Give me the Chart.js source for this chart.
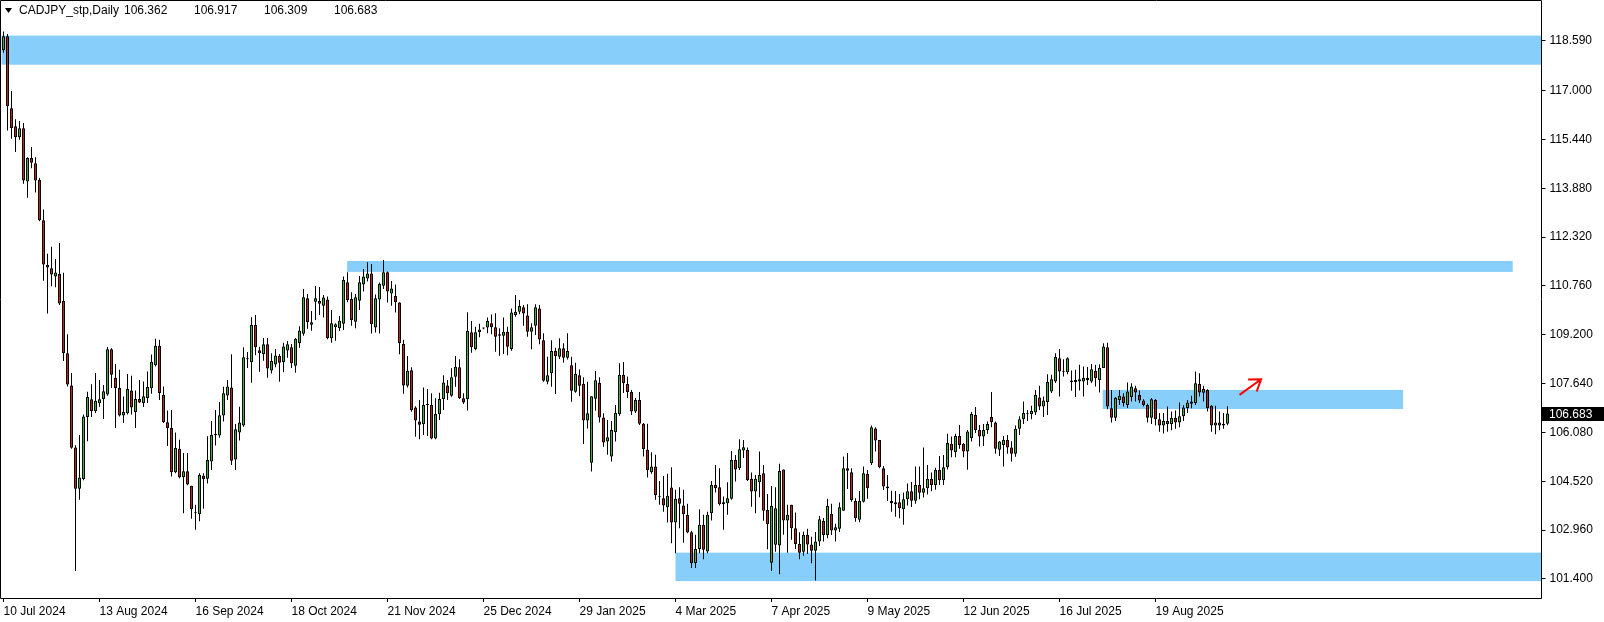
<!DOCTYPE html>
<html>
<head>
<meta charset="utf-8">
<script src="https://cdn.jsdelivr.net/npm/chart.js@4.4.1/dist/chart.umd.min.js"></script>
<style>
  html, body { margin: 0; padding: 0; background: #fff; overflow: hidden; }
  canvas { display: block; }
</style>
</head>
<body>
<canvas id="cadjpyChart" width="1604" height="622"></canvas>
<script>
const symbolTitle = 'CADJPY_stp,Daily';
const slotCount = 385; // bars that fit in the window, incl. empty space on the right
const dateTicks = ['10 Jul 2024', '13 Aug 2024', '16 Sep 2024', '18 Oct 2024', '21 Nov 2024', '25 Dec 2024',
  '29 Jan 2025', '4 Mar 2025', '7 Apr 2025', '9 May 2025', '12 Jun 2025', '16 Jul 2025', '19 Aug 2025'];
const priceTicks = [101.4, 102.96, 104.52, 106.08, 107.64, 109.2, 110.76, 112.32, 113.88, 115.44, 117.0, 118.59];

const opens = [
  118.30,118.74,116.44,115.86,115.51,115.80,114.10,114.85,114.68,114.15,
  112.86,111.44,111.33,111.06,111.14,110.28,108.61,107.58,105.60,104.28,
  104.59,106.57,107.14,106.76,107.01,107.15,107.29,108.74,107.82,107.50,
  106.62,106.69,107.42,106.73,107.15,107.02,107.18,107.49,108.23,108.85,
  107.28,106.41,106.22,104.81,105.56,104.65,104.84,104.38,103.52,103.47,
  104.70,104.60,105.15,106.00,105.98,106.62,107.26,107.52,105.22,106.08,
  106.30,108.42,108.32,109.51,108.71,108.58,108.90,108.06,108.25,108.52,
  108.32,108.70,108.80,108.21,108.93,109.23,110.37,109.52,110.26,110.28,
  110.13,110.33,109.09,109.44,109.41,109.55,110.88,110.34,109.62,110.29,
  110.81,111.00,111.16,109.43,110.33,110.77,111.20,110.52,110.44,110.23,
  108.91,107.57,108.07,106.88,106.43,106.34,106.96,106.96,105.89,106.66,
  107.15,107.58,107.25,107.86,108.16,107.17,107.14,109.28,108.74,109.28,
  109.41,109.43,109.57,109.44,109.22,109.17,109.30,108.75,109.83,109.94,
  110.08,109.82,109.30,109.49,110.04,109.03,107.70,107.97,108.68,108.50,
  108.77,108.47,108.23,107.38,107.91,107.63,106.46,105.11,107.16,107.67,
  106.56,105.79,105.31,106.09,106.66,107.92,107.63,107.37,106.75,107.12,
  106.36,105.53,104.81,104.99,104.03,103.98,103.69,104.32,103.20,103.98,
  103.75,103.45,102.89,101.90,102.36,103.13,102.28,103.50,104.40,104.33,
  103.79,103.82,103.96,105.20,104.94,105.50,105.52,104.60,104.19,104.49,
  104.78,103.60,101.92,102.49,102.47,104.90,103.27,103.77,103.02,102.52,
  102.27,102.81,102.50,102.30,102.60,103.25,102.80,103.48,102.95,103.00,
  103.58,104.94,104.81,103.89,103.29,103.87,104.75,105.10,106.21,105.84,
  104.94,104.35,103.89,103.79,103.85,103.63,103.95,104.20,103.90,104.40,
  104.15,104.30,104.60,104.40,104.88,104.55,104.97,105.72,105.45,105.97,
  105.72,105.47,105.90,106.64,106.16,105.95,106.16,106.57,106.40,105.53,
  105.68,105.84,105.60,105.40,106.20,106.50,106.68,106.66,106.72,107.20,
  106.91,107.05,107.39,107.71,108.45,108.03,108.00,107.74,107.69,107.71,
  107.71,107.76,107.71,108.05,107.76,108.14,108.80,106.85,106.55,107.12,
  107.23,106.96,107.21,107.49,107.28,107.10,106.96,106.55,107.12,106.50,
  106.30,106.45,106.35,106.55,106.40,106.60,106.86,107.00,107.02,107.63,
  107.35,107.44,106.93,106.30,106.40,106.30,106.362
];
const highs = [
  118.89,118.81,116.99,116.09,116.03,115.97,114.87,115.20,114.87,114.21,
  113.20,111.79,112.01,111.62,112.13,111.18,109.22,107.98,105.67,106.00,
  106.65,107.38,107.62,107.98,107.76,107.60,108.81,108.77,108.27,108.08,
  107.23,107.95,107.89,107.42,107.76,107.71,108.03,108.57,109.07,109.04,
  107.55,106.78,106.80,106.08,105.85,105.42,105.42,104.38,103.77,104.78,
  104.78,105.96,106.45,106.80,107.05,107.54,107.76,108.58,106.35,106.90,
  108.80,108.65,109.76,109.83,108.82,109.10,109.10,108.61,108.75,108.59,
  108.95,109.00,108.91,109.10,109.47,110.66,110.50,109.96,110.76,110.73,
  110.47,110.42,109.99,109.57,109.80,111.06,111.20,110.56,110.50,111.08,
  111.30,111.52,111.46,110.49,110.87,111.59,111.22,110.92,110.81,110.24,
  109.04,108.52,108.16,106.92,107.12,107.52,107.47,107.33,107.17,107.35,
  107.91,107.76,108.13,108.52,108.42,107.33,109.92,109.64,109.46,109.55,
  109.43,109.75,109.85,109.89,109.41,109.75,109.46,110.04,110.47,110.31,
  110.15,110.18,109.57,110.18,110.15,109.25,108.50,109.03,108.79,109.09,
  108.93,109.25,108.50,108.31,108.09,107.84,107.70,107.24,108.04,107.84,
  106.69,106.48,106.45,106.96,108.29,108.33,107.87,107.44,107.18,107.37,
  106.38,106.36,105.45,105.37,104.53,104.69,104.76,104.97,104.25,104.33,
  104.25,103.80,102.94,102.81,103.63,103.45,103.55,104.53,105.04,104.94,
  104.03,104.49,105.49,105.36,105.86,105.84,105.60,104.80,104.72,105.47,
  105.04,104.11,104.37,104.33,105.08,104.90,103.77,103.77,103.52,102.89,
  102.91,103.00,102.75,102.90,103.41,103.35,103.96,103.80,103.16,103.84,
  105.31,105.42,104.94,103.98,104.21,104.99,104.88,106.30,106.25,105.84,
  105.01,104.72,104.22,104.21,104.11,104.16,104.45,104.50,104.99,104.99,
  105.60,105.04,104.80,104.95,105.33,105.36,106.04,105.95,106.04,106.32,
  105.74,106.16,106.73,106.89,106.32,106.35,106.43,107.37,106.43,105.81,
  105.97,106.00,105.80,106.30,106.60,107.07,106.80,106.93,107.44,107.57,
  107.23,107.94,107.92,108.61,108.75,108.42,108.48,108.06,108.08,108.24,
  108.19,108.17,108.27,108.24,108.26,108.93,108.95,107.44,107.21,107.44,
  107.33,107.68,107.65,107.57,107.42,107.14,107.00,107.18,107.15,106.70,
  106.70,106.91,106.75,106.78,107.04,106.95,107.12,107.25,108.03,107.97,
  107.57,107.46,106.95,106.93,106.75,106.70,106.917
];
const lows = [
  118.21,115.73,115.46,115.04,115.43,114.03,113.58,114.52,113.75,112.83,
  110.93,109.88,110.75,110.72,110.15,108.36,107.55,105.56,101.65,103.93,
  104.55,105.80,106.57,106.70,106.90,106.51,107.25,107.50,106.22,106.59,
  106.38,106.65,106.65,106.22,107.02,106.89,107.02,107.32,108.19,107.12,
  106.38,105.65,104.67,104.78,104.62,103.50,104.39,103.32,102.97,103.24,
  103.64,104.45,104.88,105.66,105.91,106.43,107.12,105.04,104.88,105.82,
  106.26,108.14,107.67,108.55,108.02,108.37,107.83,107.96,108.16,107.70,
  108.00,108.47,108.14,107.99,108.79,109.17,109.39,109.33,109.67,109.83,
  109.75,109.06,108.95,109.01,109.32,109.35,110.24,109.49,109.41,109.99,
  110.58,110.90,109.24,109.27,109.24,110.66,110.23,110.13,109.91,108.58,
  107.32,107.52,106.74,105.94,105.86,106.00,105.97,105.86,105.86,106.48,
  106.80,107.12,107.22,107.54,107.15,106.99,106.78,108.63,108.71,109.12,
  109.38,109.25,109.22,108.66,108.53,108.59,108.55,108.69,109.78,109.86,
  109.49,109.14,108.74,109.19,108.90,107.70,107.62,107.54,107.31,108.43,
  108.31,108.41,107.06,107.35,107.24,105.71,106.21,104.83,106.77,106.40,
  105.62,105.37,105.15,105.79,106.61,107.34,107.18,106.64,106.70,106.32,
  105.31,104.64,104.76,103.93,103.77,103.55,103.20,102.54,102.22,103.02,
  102.56,102.86,101.75,101.75,102.22,102.03,102.22,103.27,104.16,103.75,
  102.97,103.45,103.93,104.51,104.88,105.26,104.53,103.71,103.50,104.01,
  103.26,102.35,101.65,102.27,101.55,102.81,102.24,102.65,102.36,102.03,
  102.14,102.20,101.90,101.35,102.45,102.60,102.70,102.80,102.60,102.90,
  103.58,104.27,103.87,103.23,103.21,103.84,103.96,105.04,105.47,104.94,
  104.24,103.89,103.55,103.39,103.34,103.13,103.75,103.70,103.80,103.95,
  104.00,104.10,104.20,104.25,104.40,104.40,104.90,105.29,105.29,105.56,
  105.29,104.89,105.79,106.06,105.63,105.65,106.04,106.25,105.40,105.33,
  104.99,105.40,105.15,105.30,106.00,106.35,106.45,106.50,106.64,106.80,
  106.57,106.64,107.34,107.66,107.23,107.87,107.94,107.41,107.21,107.42,
  107.23,107.60,107.66,107.55,107.36,108.14,106.82,106.40,106.45,106.96,
  106.91,106.86,107.07,107.07,107.02,106.91,106.40,106.35,106.30,106.10,
  106.05,106.10,106.15,106.20,106.25,106.45,106.70,106.85,106.96,107.23,
  107.07,106.75,106.10,106.02,106.15,106.20,106.309
];
const closes = [
  118.74,116.50,115.81,115.51,115.80,114.13,114.85,114.70,114.13,112.86,
  111.45,111.35,111.13,111.19,110.20,108.61,107.61,105.59,104.28,104.64,
  106.59,107.21,106.76,107.09,107.14,107.40,108.74,107.92,107.50,106.62,
  106.73,107.47,106.88,107.15,107.04,107.24,107.53,108.34,108.85,107.34,
  106.41,106.22,104.81,105.58,104.65,104.84,104.42,103.63,103.50,104.72,
  104.59,105.20,106.00,106.02,106.63,107.33,107.55,105.18,106.18,106.40,
  108.48,108.44,109.51,108.80,108.61,108.90,108.12,108.36,108.54,108.31,
  108.83,108.90,108.29,109.07,109.34,110.40,109.60,109.60,110.37,110.19,
  110.39,109.09,109.57,109.54,109.65,110.95,110.31,109.67,110.40,110.88,
  111.06,111.16,109.54,110.37,110.82,111.20,110.58,110.68,110.24,108.93,
  107.58,108.05,106.80,106.46,106.33,106.96,106.98,105.89,106.67,107.15,
  107.68,107.33,107.84,108.18,107.17,107.04,109.33,108.80,109.28,109.37,
  109.40,109.65,109.44,109.14,109.17,109.30,108.82,109.91,109.94,110.12,
  109.88,109.30,109.44,110.08,109.05,107.73,107.91,108.68,108.52,108.77,
  108.47,108.68,107.41,107.95,107.57,106.46,106.69,107.24,107.75,106.56,
  105.76,105.93,106.16,106.70,107.92,107.65,107.37,106.75,107.12,106.36,
  105.55,104.87,104.99,104.07,104.01,103.75,104.06,103.20,103.96,103.80,
  103.47,102.88,101.90,102.36,103.13,102.33,103.45,104.40,104.30,103.79,
  103.85,103.98,105.20,104.90,105.54,105.61,104.56,104.19,104.60,104.72,
  103.58,103.15,103.73,103.66,104.85,103.27,103.45,103.02,102.52,102.24,
  102.81,102.50,102.30,102.60,103.31,102.80,103.73,102.95,103.05,103.69,
  104.94,104.86,103.92,103.34,103.90,104.78,104.30,106.25,105.82,104.97,
  104.35,104.30,103.82,103.85,103.66,103.95,104.20,103.90,104.40,104.15,
  104.30,104.60,104.40,104.88,104.55,104.97,105.74,105.50,105.97,105.68,
  105.47,106.11,106.67,106.16,105.95,106.16,106.35,106.41,105.56,105.79,
  105.84,105.60,105.40,106.20,106.50,106.70,106.66,106.77,107.28,106.91,
  107.10,107.69,107.78,108.49,108.03,108.02,108.45,107.69,107.76,107.78,
  107.82,107.82,108.10,107.82,108.14,108.83,106.91,106.55,107.18,107.25,
  107.02,107.39,107.55,107.36,107.10,106.96,106.55,107.14,106.50,106.30,
  106.45,106.35,106.55,106.40,106.60,106.88,107.04,107.07,107.65,107.36,
  107.47,106.85,106.30,106.40,106.30,106.36,106.683
];

// support / resistance boxes drawn on the chart (bar index range, price range)
const zoneFrom = [-2, 85.9, 274.8, 168];
const zoneTo = [400, 377.3, 349.9, 400];
const zoneLow = [117.83, 111.21, 106.83, 101.33];
const zoneHigh = [118.76, 111.56, 107.44, 102.24];
// hand-drawn arrow (bar index, price)
const arrowX = [309.0, 314.4];
const arrowY = [107.28, 107.78];

const bullColor = '#22c322';
const bearColor = '#c81e1e';
const zoneColor = '#87cefa';
const axisFont = { family: 'Liberation Sans', size: 12 };

const labels = Array.from({ length: slotCount }, (_, i) =>
  (i % 24 === 0 && dateTicks[i / 24]) ? dateTicks[i / 24] : '');
const last = closes.length - 1;

const overlay = {
  id: 'overlay',
  beforeDatasetsDraw(chart) {
    const { ctx, chartArea: a, scales: { x, y } } = chart;
    ctx.save();
    ctx.beginPath();
    ctx.rect(a.left, a.top, a.right - a.left, a.bottom - a.top);
    ctx.clip();
    ctx.fillStyle = zoneColor;
    for (let k = 0; k < zoneFrom.length; k++) {
      const x1 = x.getPixelForValue(zoneFrom[k]);
      const x2 = x.getPixelForValue(zoneTo[k]);
      const y1 = y.getPixelForValue(zoneHigh[k]);
      const y2 = y.getPixelForValue(zoneLow[k]);
      ctx.fillRect(x1, y1, x2 - x1, y2 - y1);
    }
    ctx.restore();
  },
  afterDatasetsDraw(chart) {
    const { ctx, scales: { x, y } } = chart;
    const x0 = x.getPixelForValue(arrowX[0]), y0 = y.getPixelForValue(arrowY[0]);
    const x1 = x.getPixelForValue(arrowX[1]), y1 = y.getPixelForValue(arrowY[1]);
    const ang = Math.atan2(y1 - y0, x1 - x0);
    ctx.save();
    ctx.strokeStyle = '#ff0000';
    ctx.lineWidth = 2;
    ctx.beginPath();
    ctx.moveTo(x0, y0);
    ctx.lineTo(x1, y1);
    ctx.moveTo(x1 - 13 * Math.cos(ang - 0.6), y1 - 13 * Math.sin(ang - 0.6));
    ctx.lineTo(x1, y1);
    ctx.lineTo(x1 - 13 * Math.cos(ang + 0.6), y1 - 13 * Math.sin(ang + 0.6));
    ctx.stroke();
    ctx.restore();
  },
  afterDraw(chart) {
    const { ctx, chartArea: a, scales: { y } } = chart;
    ctx.save();
    // frame
    ctx.strokeStyle = '#000';
    ctx.lineWidth = 1;
    ctx.beginPath();
    ctx.moveTo(0.5, Math.round(a.bottom) + 0.5);
    ctx.lineTo(0.5, 0.5);
    ctx.lineTo(Math.round(a.right) - 0.5, 0.5);
    ctx.lineTo(Math.round(a.right) - 0.5, Math.round(a.bottom) + 0.5);
    ctx.lineTo(0.5, Math.round(a.bottom) + 0.5);
    ctx.stroke();
    // header
    ctx.fillStyle = '#000';
    ctx.beginPath();
    ctx.moveTo(5, 8); ctx.lineTo(12, 8); ctx.lineTo(8.5, 13); ctx.closePath();
    ctx.fill();
    ctx.font = '12px "Liberation Sans"';
    ctx.textBaseline = 'middle';
    ctx.textAlign = 'left';
    ctx.fillText(symbolTitle, 19, 11);
    [opens[last], highs[last], lows[last], closes[last]].forEach((v, k) => {
      ctx.fillText(v.toFixed(3), 124 + k * 70, 11);
    });
    // last price tag
    const py = Math.round(y.getPixelForValue(closes[last]));
    ctx.fillStyle = '#000';
    ctx.fillRect(Math.round(a.right), py - 7, 1604 - Math.round(a.right), 14);
    ctx.fillStyle = '#fff';
    ctx.fillText(closes[last].toFixed(3), 1549, py + 0.5);
    ctx.restore();
  }
};

new Chart(document.getElementById('cadjpyChart'), {
  type: 'bar',
  data: {
    labels: labels,
    datasets: [{
      label: 'wick',
      data: lows.map((l, i) => [l, highs[i]]),
      backgroundColor: '#000',
      borderWidth: 0,
      barThickness: 1,
      grouped: false,
      inflateAmount: 0,
      order: 2
    }, {
      label: 'body',
      data: opens.map((o, i) => [o, closes[i]]),
      backgroundColor: opens.map((o, i) => closes[i] >= o ? bullColor : bearColor),
      borderColor: '#000',
      borderWidth: 1,
      borderSkipped: false,
      barThickness: 3,
      minBarLength: 1,
      grouped: false,
      inflateAmount: 0,
      order: 1
    }]
  },
  options: {
    responsive: false,
    animation: false,
    events: [],
    layout: { padding: { left: 1.5, top: 1, right: 0, bottom: 0 } },
    plugins: { legend: { display: false }, tooltip: { enabled: false } },
    scales: {
      x: {
        offset: true,
        grid: { drawOnChartArea: false, drawTicks: true, tickLength: 4, color: '#000', offset: false },
        border: { display: false },
        ticks: { autoSkip: false, maxRotation: 0, align: 'start', padding: 2, color: '#000', font: axisFont },
        afterBuildTicks(s) { s.ticks = s.ticks.filter(t => t.value % 24 === 0 && t.value <= 288); },
        afterFit(s) { s.height = 24; s.paddingLeft = 0; s.paddingRight = 0; }
      },
      y: {
        position: 'right',
        min: 100.791,
        max: 119.865,
        grid: { drawOnChartArea: false, drawTicks: true, tickLength: 4, color: '#000' },
        border: { display: false },
        ticks: { padding: 4, color: '#000', font: axisFont, callback: v => v.toFixed(3) },
        afterBuildTicks(s) { s.ticks = priceTicks.map(v => ({ value: v })); },
        afterFit(s) { s.width = 62.5; s.paddingTop = 0; s.paddingBottom = 0; }
      }
    }
  },
  plugins: [overlay]
});
</script>
</body>
</html>
